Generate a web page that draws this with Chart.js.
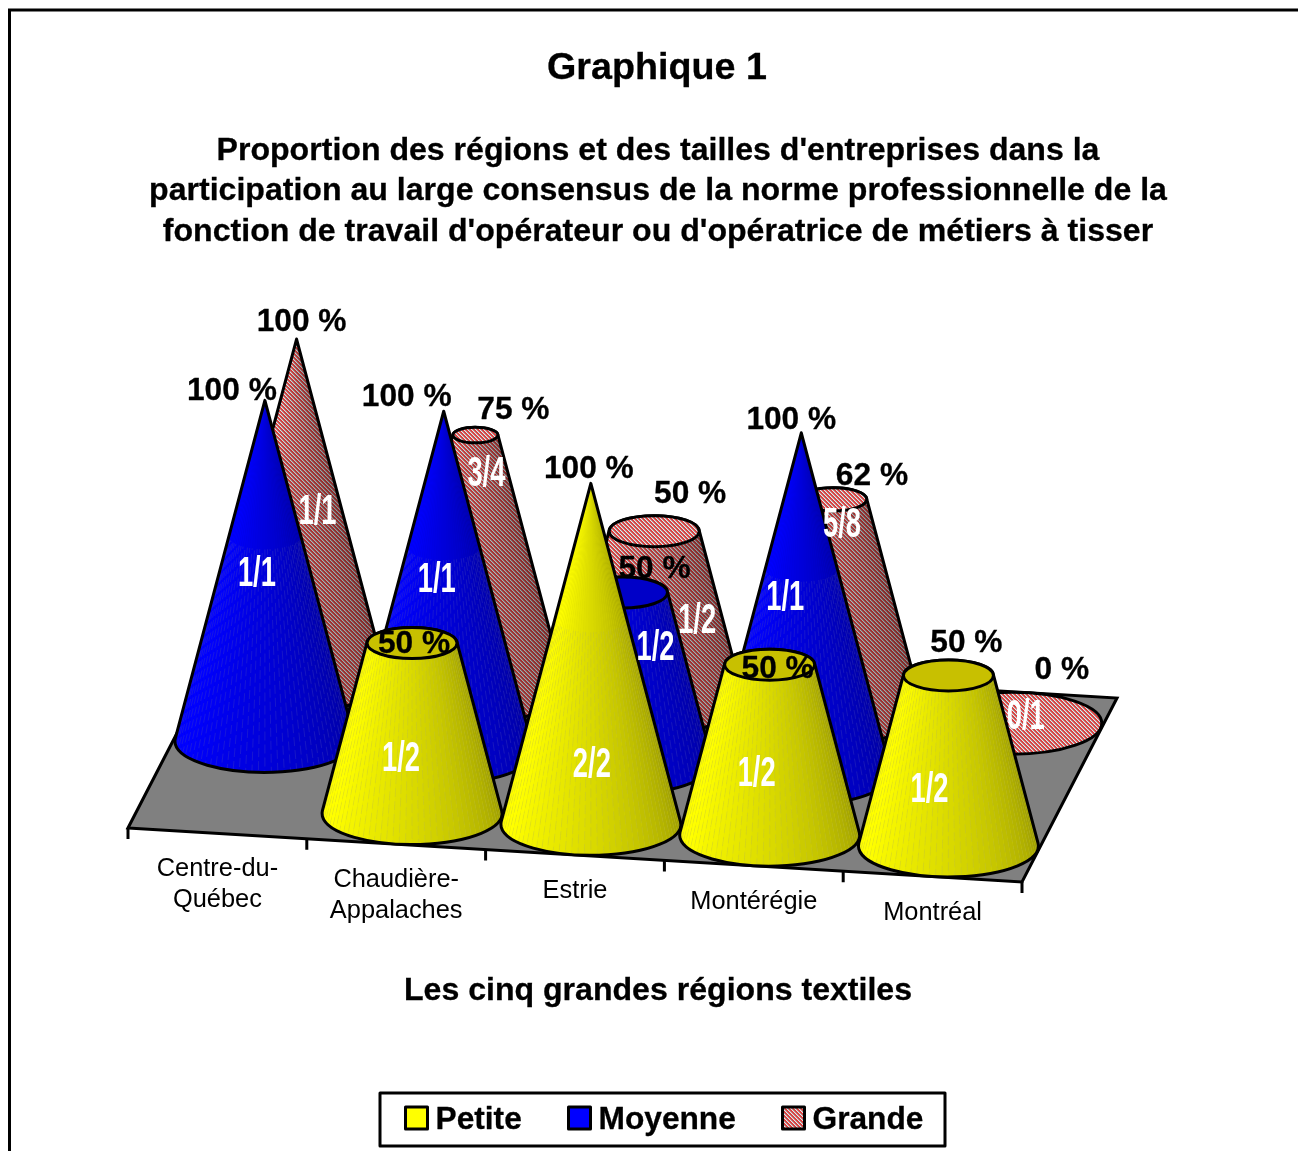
<!DOCTYPE html>
<html>
<head>
<meta charset="utf-8">
<title>Graphique 1</title>
<script src="https://cdn.jsdelivr.net/npm/chart.js@4/dist/chart.umd.min.js"></script>
<style>
  html, body { margin: 0; padding: 0; background: #fff; }
  canvas { display: block; }
</style>
</head>
<body>
<canvas id="myChart" width="1298" height="1151"></canvas>
<script>
// data
var categories = [['Centre-du-', 'Québec'], ['Chaudière-', 'Appalaches'], ['Estrie'], ['Montérégie'], ['Montréal']];
var seriesNames = ['Petite', 'Moyenne', 'Grande'];
var petite = [null, 50, 100, 50, 50];
var moyenne = [100, 100, 50, 100, null];
var grande = [100, 75, 50, 62.5, 0];
var petiteFractions = [null, '1/2', '2/2', '1/2', '1/2'];
var moyenneFractions = ['1/1', '1/1', '1/2', '1/1', null];
var grandeFractions = ['1/1', '3/4', '1/2', '5/8', '0/1'];

var mainTitle = 'Graphique 1';
var subTitle = ["Proportion des régions et des tailles d'entreprises dans la",
  'participation au large consensus de la norme professionnelle de la',
  "fonction de travail d'opérateur ou d'opératrice de métiers à tisser"];
var axisTitle = 'Les cinq grandes régions textiles';

// label placement, the original labels were moved by hand
var valueNudge = [
  [null, [2, 1], [-2, -14], [8, 5], [18, -32]],
  [[-33, -9], [-37, -14], [32, -23], [-10, -13], null],
  [[5, -17], [38, -25], [36, -37], [39, -23], [50, -53]]
];
var fractionNudge = [
  [null, [-11, 31], [1, 112], [-13, 25], [-19, 30]],
  [[-8, 4], [-7, -1], [33, -29], [-16, -5], null],
  [[21, 3], [11, -89], [43, 5], [9, -80], [14, -6]]
];

var skewY = 54 / 894;     // slope of the front edge of the floor
var depthX = 95 / 3;      // one row back
var depthY = -184 / 3;
var radiusX = 90;
var radiusY = 31;
var lineW = 3;
var boldFont = 'bold 31.7px "Liberation Sans", Arial, sans-serif';
var subFont = 'bold 32.1px "Liberation Sans", Arial, sans-serif';

function makeHatch(ctx) {
  var c = document.createElement('canvas');
  c.width = 4;
  c.height = 4;
  var p = c.getContext('2d');
  var rows = ['RRLG', 'GRRL', 'LGRR', 'RLGR'];
  var cols = { R: '#dc4040', L: '#f4e0e0', G: '#a8a0a0' };
  for (var y = 0; y < 4; y++) {
    for (var x = 0; x < 4; x++) {
      p.fillStyle = cols[rows[y][x]];
      p.fillRect(x, y, 1, 1);
    }
  }
  return ctx.createPattern(c, 'repeat');
}

function shade(u) {
  return 0.58 + 0.42 * Math.pow(Math.min(1, u / 0.85), 0.8);
}

function seriesFill(s, light) {
  if (s == 0) return 'rgb(' + Math.round(255 * light) + ',' + Math.round(255 * light) + ',0)';
  if (s == 1) return 'rgb(0,0,' + Math.round(255 * light) + ')';
  return 'rgba(0,0,0,' + (1 - light) * 1.15 + ')';
}

function drawCone(ctx, x0, y0, h, full, s, hatch) {
  var k = 1 - h / full;
  var a = Math.asin(radiusY / full);
  var yTop = y0 - h;
  var baseCol = s == 0 ? '#d8d800' : s == 1 ? '#0000d8' : hatch;

  function outline() {
    ctx.beginPath();
    ctx.ellipse(x0, y0, radiusX, radiusY, 0, -a, Math.PI + a, false);
    ctx.ellipse(x0, yTop, radiusX * k, radiusY * k, 0, Math.PI + a, -a, false);
    ctx.closePath();
  }

  if (h > 0) {
    outline();
    ctx.fillStyle = baseCol;
    ctx.fill();
    var steps = 46;
    for (var i = 0; i < steps; i++) {
      var t1 = -a + (Math.PI + 2 * a) * i / steps;
      var t2 = -a + (Math.PI + 2 * a) * (i + 1) / steps;
      var u = Math.max(0, Math.min(1, ((t1 + t2) / 2) / Math.PI));
      ctx.beginPath();
      ctx.moveTo(x0 + radiusX * Math.cos(t1), y0 + radiusY * Math.sin(t1));
      ctx.lineTo(x0 + radiusX * Math.cos(t2), y0 + radiusY * Math.sin(t2));
      ctx.lineTo(x0 + radiusX * k * Math.cos(t2), yTop + radiusY * k * Math.sin(t2));
      ctx.lineTo(x0 + radiusX * k * Math.cos(t1), yTop + radiusY * k * Math.sin(t1));
      ctx.closePath();
      ctx.fillStyle = seriesFill(s, shade(u));
      ctx.fill();
      // the faint broken seams between the facets, stopping before they bunch up at the tip
      if (s < 2 && i > 0) {
        var stop = k > 0.01 ? 1 : 0.6;
        var kk = 1 - (1 - k) * stop;
        ctx.beginPath();
        ctx.moveTo(x0 + radiusX * Math.cos(t1), y0 + radiusY * Math.sin(t1));
        ctx.lineTo(x0 + radiusX * kk * Math.cos(t1), y0 - h * stop + radiusY * kk * Math.sin(t1));
        ctx.setLineDash([9, 4]);
        ctx.lineDashOffset = i * 3.7;
        ctx.lineWidth = 0.7;
        ctx.strokeStyle = 'rgba(150,150,150,0.22)';
        ctx.stroke();
        ctx.setLineDash([]);
      }
    }
    outline();
    ctx.lineWidth = lineW;
    ctx.strokeStyle = '#000';
    ctx.lineJoin = 'round';
    ctx.stroke();
  }

  // top cap
  if (k > 0.001) {
    ctx.beginPath();
    ctx.ellipse(x0, yTop, radiusX * k, radiusY * k, 0, 0, Math.PI * 2);
    ctx.fillStyle = s == 0 ? '#c8c000' : s == 1 ? '#0000c8' : hatch;
    ctx.fill();
    ctx.lineWidth = lineW;
    ctx.strokeStyle = '#000';
    ctx.stroke();
  }
}

function heavyText(ctx, txt, x, y) {
  ctx.lineWidth = 0.3;
  ctx.strokeStyle = ctx.fillStyle;
  ctx.strokeText(txt, x, y);
  ctx.fillText(txt, x, y);
}

var conePlugin = {
  id: 'cones',
  afterDraw: function (chart) {
    var ctx = chart.ctx;
    var xs = chart.scales.x;
    var ys = chart.scales.y;
    var area = chart.chartArea;
    var yZero = ys.getPixelForValue(0);
    var full = yZero - ys.getPixelForValue(100);
    var hatch = makeHatch(ctx);
    var step = (area.right - area.left) / categories.length;
    var values = [petite, moyenne, grande];
    var fractions = [petiteFractions, moyenneFractions, grandeFractions];
    var legendColors = ['#ffff00', '#0000ff', hatch];

    function frontY(px) {
      return yZero + (px - area.left) * skewY;
    }
    function baseX(i, s) {
      return xs.getPixelForValue(i) + depthX * (s + 0.5);
    }
    function baseY(i, s) {
      return frontY(xs.getPixelForValue(i)) + depthY * (s + 0.5);
    }

    ctx.save();

    // page frame
    ctx.strokeStyle = '#000';
    ctx.lineWidth = lineW;
    ctx.beginPath();
    ctx.moveTo(9.5, 1151);
    ctx.lineTo(9.5, 10);
    ctx.lineTo(1298, 10);
    ctx.stroke();

    // titles
    ctx.fillStyle = '#000';
    ctx.textAlign = 'center';
    ctx.textBaseline = 'middle';
    ctx.font = 'bold 37.7px "Liberation Sans", Arial, sans-serif';
    heavyText(ctx, mainTitle, 657, 69);
    ctx.font = subFont;
    for (var l = 0; l < subTitle.length; l++) {
      heavyText(ctx, subTitle[l], 658, 151 + l * 40.5);
    }
    heavyText(ctx, axisTitle, 658, 991);

    // floor
    var dx = depthX * 3;
    var dy = depthY * 3;
    ctx.beginPath();
    ctx.moveTo(area.left, frontY(area.left));
    ctx.lineTo(area.right, frontY(area.right));
    ctx.lineTo(area.right + dx, frontY(area.right) + dy);
    ctx.lineTo(area.left + dx, frontY(area.left) + dy);
    ctx.closePath();
    ctx.fillStyle = '#808080';
    ctx.fill();
    ctx.lineWidth = lineW;
    ctx.strokeStyle = '#000';
    ctx.stroke();

    // axis ticks and category labels
    ctx.beginPath();
    for (var t = 0; t <= categories.length; t++) {
      var tx = area.left + t * step;
      ctx.moveTo(tx, frontY(tx));
      ctx.lineTo(tx, frontY(tx) + 11);
    }
    ctx.stroke();
    ctx.fillStyle = '#000';
    ctx.font = '25.4px "Liberation Sans", Arial, sans-serif';
    for (var c = 0; c < categories.length; c++) {
      var cx = xs.getPixelForValue(c);
      for (var n = 0; n < categories[c].length; n++) {
        ctx.fillText(categories[c][n], cx, frontY(cx) + 36 + n * 31);
      }
    }

    // cones, back row first
    for (var s = 2; s >= 0; s--) {
      for (var i = 0; i < categories.length; i++) {
        if (values[s][i] == null) continue;
        drawCone(ctx, baseX(i, s), baseY(i, s), yZero - ys.getPixelForValue(values[s][i]), full, s, hatch);
      }
    }

    // data labels on top of everything
    for (s = 2; s >= 0; s--) {
      for (i = 0; i < categories.length; i++) {
        if (values[s][i] == null) continue;
        var h = yZero - ys.getPixelForValue(values[s][i]);
        var bx = baseX(i, s);
        var by = baseY(i, s);
        var fn = fractionNudge[s][i];
        ctx.save();
        ctx.translate(bx + fn[0], by - h / 2 + fn[1]);
        ctx.scale(0.65, 1);
        ctx.font = 'bold 42px "Liberation Sans", Arial, sans-serif';
        ctx.fillStyle = '#fff';
        ctx.fillText(fractions[s][i], 0, 0);
        ctx.restore();
      }
    }
    for (s = 2; s >= 0; s--) {
      for (i = 0; i < categories.length; i++) {
        if (values[s][i] == null) continue;
        h = yZero - ys.getPixelForValue(values[s][i]);
        var vn = valueNudge[s][i];
        ctx.font = boldFont;
        ctx.fillStyle = '#000';
        heavyText(ctx, Math.floor(values[s][i]) + ' %', baseX(i, s) + vn[0], baseY(i, s) - h + vn[1]);
      }
    }

    // legend
    ctx.lineWidth = 3;
    ctx.strokeStyle = '#000';
    ctx.strokeRect(380, 1093, 565, 53);
    var legendX = [405.5, 568.5, 782.5];
    ctx.textAlign = 'left';
    ctx.font = boldFont;
    for (s = 0; s < seriesNames.length; s++) {
      ctx.fillStyle = legendColors[s];
      ctx.fillRect(legendX[s], 1107, 22, 22);
      ctx.lineWidth = 3;
      ctx.strokeStyle = '#000';
      ctx.strokeRect(legendX[s], 1107, 22, 22);
      ctx.fillStyle = '#000';
      heavyText(ctx, seriesNames[s], legendX[s] + 30, 1120);
    }
    ctx.restore();
  }
};

new Chart('myChart', {
  type: 'bar',
  data: {
    labels: categories,
    datasets: [
      { label: seriesNames[0], data: petite, backgroundColor: 'transparent' },
      { label: seriesNames[1], data: moyenne, backgroundColor: 'transparent' },
      { label: seriesNames[2], data: grande, backgroundColor: 'transparent' }
    ]
  },
  options: {
    responsive: false,
    animation: false,
    layout: { padding: { left: 128, right: 276, top: 487, bottom: 323 } },
    plugins: { legend: { display: false }, tooltip: { enabled: false } },
    scales: {
      x: { display: false },
      y: { display: false, min: 0, max: 100 }
    }
  },
  plugins: [conePlugin]
});
</script>
</body>
</html>
